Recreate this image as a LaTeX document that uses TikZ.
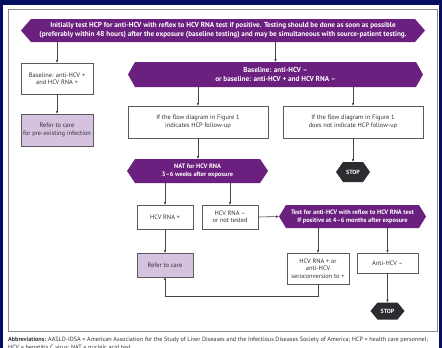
\documentclass[tikz,border=0pt]{standalone}
\usepackage{fontspec}
\setmainfont{PT Sans}
\usetikzlibrary{arrows.meta,calc}
\definecolor{navy}{HTML}{050F62}
\definecolor{purp}{HTML}{6B1F7E}
\definecolor{lav}{HTML}{D4C2DF}
\definecolor{stopc}{HTML}{2C2C30}
\definecolor{panelc}{HTML}{8C8C8C}
\definecolor{boxc}{HTML}{5A5A5E}
\definecolor{txtc}{HTML}{333336}
\definecolor{arrc}{HTML}{444448}
\tikzset{
  box/.style={draw=boxc, line width=0.7pt, fill=white, align=center, inner sep=0pt,
    text=txtc, font=\fontsize{6.4}{7.4}\selectfont},
  lavbox/.style={box, fill=lav},
  banner/.style={align=center, inner sep=0pt, text=white,
    font=\bfseries\fontsize{7.2}{8.8}\selectfont,
    path picture={\fill[purp] (path picture bounding box.west)
      -- ([xshift=#1]path picture bounding box.north west)
      -- ([xshift=-#1]path picture bounding box.north east)
      -- (path picture bounding box.east)
      -- ([xshift=-#1]path picture bounding box.south east)
      -- ([xshift=#1]path picture bounding box.south west) -- cycle;}},
  banner/.default=7pt,
  smalltext/.style={font=\bfseries\fontsize{6.4}{8}\selectfont},
  stopsign/.style={align=center, inner sep=0pt, text=white,
    font=\bfseries\fontsize{6}{7}\selectfont, minimum width=34pt,
    path picture={\fill[stopc] (path picture bounding box.west)
      -- ([xshift=7pt]path picture bounding box.north west)
      -- ([xshift=-7pt]path picture bounding box.north east)
      -- (path picture bounding box.east)
      -- ([xshift=-7pt]path picture bounding box.south east)
      -- ([xshift=7pt]path picture bounding box.south west) -- cycle;}},
  arr/.style={draw=arrc, line width=0.6pt, -{Triangle[length=2.6pt,width=2.2pt]}}
}
\begin{document}
\begin{tikzpicture}[x=1pt,y=-1pt]
\useasboundingbox (0,0) rectangle (442,348);
\fill[navy] (0,0) rectangle (442,348);
\fill[white] (3,5) rectangle (439,348);
\draw[panelc, line width=0.8pt] (8,9) rectangle (437,331);

\node[banner=10pt, minimum width=404pt, minimum height=23pt] (b1) at (223,30.5)
  {Initially test HCP for anti-HCV with reflex to HCV RNA test if positive. Testing should be done as soon as possible\\
   (preferably within 48 hours) after the exposure (baseline testing) and may be simultaneous with source-patient testing.};
\node[box, minimum width=72pt, minimum height=31pt] (bl1) at (57,78.5)
  {Baseline: anti-HCV +\\and HCV RNA +};
\node[lavbox, minimum width=72pt, minimum height=32pt] (ref1) at (57,130)
  {Refer to care\\for pre-existing infection};
\node[banner, minimum width=295pt, minimum height=25pt] (b2) at (275.5,74.5)
  {Baseline: anti-HCV --\\or baseline: anti-HCV + and HCV RNA --};
\node[box, minimum width=140pt, minimum height=32pt] (f1) at (198,122)
  {If the flow diagram in Figure 1\\indicates HCP follow-up};
\node[box, minimum width=140pt, minimum height=32pt] (f2) at (353,122)
  {If the flow diagram in Figure 1\\does not indicate HCP follow-up};
\node[banner=8pt, smalltext, minimum width=141pt, minimum height=24pt] (nat) at (197.5,171)
  {NAT for HCV RNA\\3--6 weeks after exposure};
\node[stopsign, minimum height=20pt] (stop1) at (353,172) {STOP};
\node[box, minimum width=56pt, minimum height=24pt] (rp) at (165,217) {HCV RNA +};
\node[box, minimum width=56pt, minimum height=24pt] (rn) at (230,217) {HCV RNA --\\or not tested};
\node[banner, smalltext, minimum width=147pt, minimum height=23pt] (tb) at (352.5,216.5)
  {Test for anti-HCV with reflex to HCV RNA test\\If positive at 4--6 months after exposure};
\node[lavbox, minimum width=56pt, minimum height=24pt] (ref2) at (165,265) {Refer to care};
\node[box, minimum width=62pt, minimum height=31pt] (sero) at (318,268.5)
  {HCV RNA + or\\anti-HCV\\seroconversion to +};
\node[box, minimum width=61pt, minimum height=20pt] (anti) at (387.5,263) {Anti-HCV --};
\node[stopsign, minimum height=17pt] (stop2) at (387.5,311) {STOP};

\node[anchor=north west, inner sep=0pt, align=left, text=txtc,
  font=\fontsize{6.15}{7.5}\selectfont] (abbr) at (8,337)
  {\textbf{Abbreviations:} AASLD-IDSA = American Association for the Study of Liver Diseases and the Infectious Diseases Society of America; HCP = health care personnel;\\
   HCV = hepatitis C virus; NAT = nucleic acid test.};

\draw[arr] (b1.south -| bl1.north) -- (bl1.north);
\draw[arr] (b1.south -| b2.north) -- (b2.north);
\draw[arr] (bl1.south) -- (ref1.north);
\draw[arr] (b2.south -| f1.north) -- (f1.north);
\draw[arr] (b2.south -| f2.north) -- (f2.north);
\draw[arr] (f1.south) -- (f1.south |- nat.north);
\draw[arr] (f2.south) -- (stop1.north);
\draw[arr] (nat.south -| rp.north) -- (rp.north);
\draw[arr] (nat.south -| rn.north) -- (rn.north);
\draw[arr] (rn.east) -- (tb.west);
\draw[arr] (rp.south) -- (ref2.north);
\draw[arr] (tb.south -| sero.north) -- (sero.north);
\draw[arr] (tb.south -| anti.north) -- (anti.north);
\draw[arr] (anti.south) -- (stop2.north);
\draw[arr] (sero.south) -- ++(0,12) -| (ref2.south);
\end{tikzpicture}
\end{document}
